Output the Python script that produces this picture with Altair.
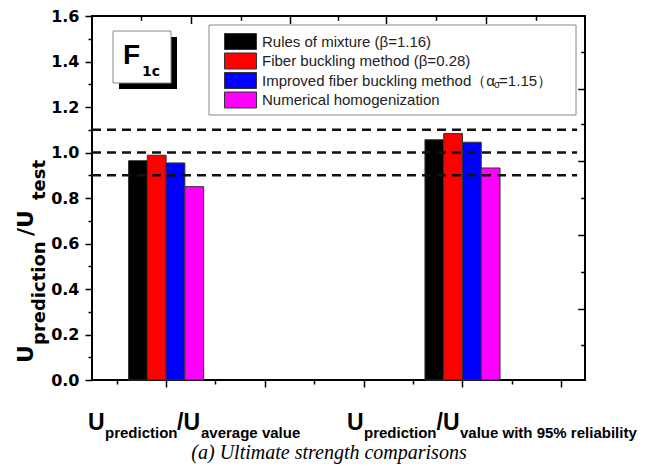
import altair as alt
import pandas as pd

# ---------------- data ----------------
series = [
    "Rules of mixture (β=1.16)",
    "Fiber buckling method (β=0.28)",
    "Improved fiber buckling method（α =1.15）",
    "Numerical homogenization",
]
colors = ["#000000", "#ff0000", "#0000ff", "#ff00ff"]
group_centers = [1.0, 4.0]
values_average = [0.964, 0.988, 0.954, 0.850]
values_95 = [1.056, 1.083, 1.045, 0.932]
reference_levels = [0.9, 1.0, 1.1]

y_major = [0.0, 0.2, 0.4, 0.6, 0.8, 1.0, 1.2, 1.4, 1.6]
y_minor = [0.1, 0.3, 0.5, 0.7, 0.9, 1.1, 1.3, 1.5]
x_major = [1, 2, 3, 4, 5]
x_minor = [0.5, 1.5, 2.5, 3.5, 4.5]
top_long = [1.25, 2.25, 3.23, 4.24]
top_short = [0.744, 1.757, 2.737, 3.73, 4.743]
right_long = [1.279, 0.963, 0.637, 0.312]
right_short = [1.442, 1.125, 0.800, 0.475, 0.154]

X_MIN, X_MAX = 0.25, 5.24
Y_MIN, Y_MAX = 0.0, 1.6
BAR_W = 0.19
DASH_END = 5.16

# ---------------- layout ----------------
W, H = 493, 364
PAD_L, PAD_T = 92, 16
PAD_R, PAD_B = 650 - PAD_L - W, 469 - PAD_T - H

rows = []
for g, vals in zip(group_centers, [values_average, values_95]):
    for i, (s, v) in enumerate(zip(series, vals)):
        x0 = g + (i - 2) * BAR_W
        rows.append({"series": s, "x0": x0, "x1": x0 + BAR_W, "v": v, "z": 0.0})
bars_df = pd.DataFrame(rows)
ref_df = pd.DataFrame({"level": reference_levels, "xs": X_MIN, "xe": DASH_END})
anchor_df = pd.DataFrame({"ax": [X_MIN], "ay": [Y_MIN]})

xs = alt.Scale(domain=[X_MIN, X_MAX], nice=False, zero=False)
ys = alt.Scale(domain=[Y_MIN, Y_MAX], nice=False, zero=False)


def axis(orient, values, size, offset=0, labels=False, **kw):
    return alt.Axis(orient=orient, values=values, tickSize=size, offset=offset,
                    labels=labels, title=None, domain=False, grid=False,
                    tickColor="black", tickWidth=1.5, **kw)


bars = alt.Chart(bars_df).mark_bar(stroke="#333333", strokeWidth=1).encode(
    x=alt.X("x0:Q", scale=xs, axis=axis("bottom", x_major, 7)),
    x2="x1:Q",
    y=alt.Y("v:Q", scale=ys, axis=axis("left", y_major, 7, labels=True, format=".1f",
                                        labelFont="DejaVu Sans", labelFontWeight="bold",
                                        labelFontSize=16, labelColor="black", labelPadding=6)),
    y2="z:Q",
    color=alt.Color("series:N", scale=alt.Scale(domain=series, range=colors), sort=series,
                    legend=alt.Legend(orient="none", legendX=117, legendY=9, title=None,
                                      symbolType="M-2,-1H2V1H-2Z", symbolSize=256,
                                      symbolStrokeColor="#333333", symbolStrokeWidth=1,
                                      symbolOffset=15, labelOffset=13, padding=8, rowPadding=-1.5,
                                      labelFont="Liberation Sans", labelFontSize=15,
                                      labelColor="#222222", labelLimit=400)),
)

dashes = alt.Chart(ref_df).mark_rule(color="#111111", strokeWidth=2.5, strokeDash=[9, 6]).encode(
    x=alt.X("xs:Q", scale=xs, axis=None),
    x2="xe:Q",
    y=alt.Y("level:Q", scale=ys, axis=None),
)


def axis_layer(xa, ya):
    return alt.Chart(anchor_df).mark_point(opacity=0).encode(
        x=alt.X("ax:Q", scale=xs, axis=xa),
        y=alt.Y("ay:Q", scale=ys, axis=ya),
    )


ax1 = axis_layer(axis("bottom", x_minor, 4), axis("left", y_minor, 4))
ax2 = axis_layer(axis("top", top_long, 7.5, offset=-7.5), axis("right", right_long, 7.3, offset=-7.3))
ax3 = axis_layer(axis("top", top_short, 4.3, offset=-4.3), axis("right", right_short, 4.3, offset=-4.3))


def text(t, x, y, size, font="Liberation Sans", weight="bold", angle=0, align="left",
         style="normal", color="black"):
    return alt.Chart(pd.DataFrame({"t": [t]})).mark_text(
        font=font, fontSize=size, fontWeight=weight, fontStyle=style, angle=angle,
        align=align, baseline="alphabetic", color=color,
    ).encode(x=alt.value(x - PAD_L), y=alt.value(y - PAD_T), text="t:N")


def rect(x0, y0, x1, y1, fill, stroke=None):
    props = dict(fill=fill)
    if stroke:
        props.update(stroke=stroke, strokeWidth=1)
    return alt.Chart(pd.DataFrame({"a": [0]})).mark_rect(**props).encode(
        x=alt.value(x0 - PAD_L), x2=alt.value(x1 - PAD_L),
        y=alt.value(y0 - PAD_T), y2=alt.value(y1 - PAD_T),
    )


annotations = [
    rect(209, 25, 576, 115, "white", "#888888"),
    rect(119, 37, 177, 89, "black"),
    rect(113, 31, 171, 83, "white", "#888888"),
    text("F", 123, 63.5, 28),
    text("1c", 142, 76, 14, font="DejaVu Sans"),
    # subscript sigma of the legend label
    text("σ", 494, 87.5, 10, weight="normal", color="#222222"),
    # y title
    text("U", 33, 363, 22, font="DejaVu Sans", angle=270),
    text("prediction", 45, 345, 18, font="DejaVu Sans", angle=270),
    text("/U", 33, 236, 22, font="DejaVu Sans", angle=270),
    text("test", 45, 200, 18, font="DejaVu Sans", angle=270),
    # x category labels
    text("U", 88, 430, 23),
    text("prediction", 105, 438, 15),
    text("/U", 177, 430, 23),
    text("average value", 201, 438, 15),
    text("U", 347, 430, 23),
    text("prediction", 364, 438, 15),
    text("/U", 436.5, 430, 23),
    text("value with 95% reliability", 460, 438, 15),
    # caption
    text("(a)  Ultimate strength comparisons", 329, 459, 20, font="Liberation Serif",
         weight="normal", style="italic", align="center"),
]

chart = alt.layer(
    *annotations[:3], bars, dashes, ax1, ax2, ax3, *annotations[3:]
).resolve_axis(x="independent", y="independent").properties(
    width=W, height=H,
    autosize=alt.AutoSizeParams(type="none"),
    padding={"left": PAD_L, "top": PAD_T, "right": PAD_R, "bottom": PAD_B},
    background="white",
).configure_view(stroke="black", strokeWidth=2)

chart.save("out.html", embed_options={"renderer": "svg", "actions": False})
